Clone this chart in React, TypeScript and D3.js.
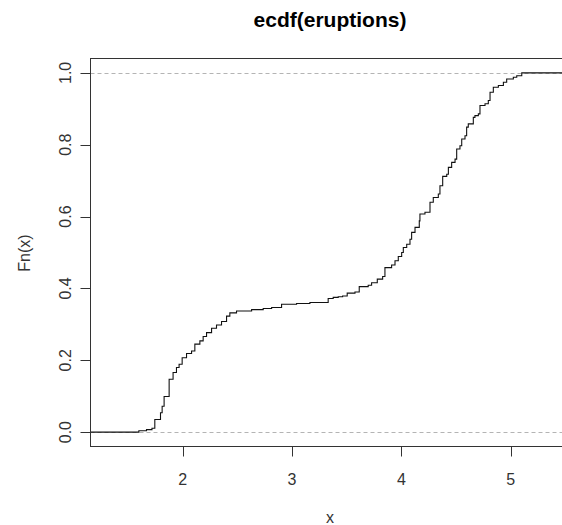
import React, { useEffect, useRef } from 'react';
import * as d3 from 'd3';

const knotX = [
  1.6, 1.67, 1.72, 1.746, 1.798, 1.813, 1.831, 1.877, 1.913, 1.944, 1.968, 1.996,
  2.036, 2.082, 2.112, 2.158, 2.188, 2.219, 2.265, 2.31, 2.356, 2.402, 2.432, 2.493,
  2.631, 2.737, 2.814, 2.905, 3.042, 3.164, 3.331, 3.377, 3.423, 3.463, 3.505, 3.576,
  3.615, 3.697, 3.728, 3.78, 3.829, 3.85, 3.911, 3.942, 3.972, 4.003, 4.018, 4.049,
  4.079, 4.094, 4.125, 4.164, 4.17, 4.216, 4.262, 4.292, 4.338, 4.353, 4.378, 4.415,
  4.43, 4.46, 4.491, 4.506, 4.536, 4.552, 4.582, 4.597, 4.612, 4.658, 4.673, 4.704,
  4.719, 4.765, 4.795, 4.811, 4.841, 4.887, 4.933, 4.963, 5.024, 5.055, 5.101,
];
// Fn(x) level right after each jump
const knotF = [
  0.004, 0.007, 0.011, 0.035, 0.054, 0.072, 0.099, 0.147, 0.166, 0.18, 0.189, 0.207,
  0.219, 0.226, 0.245, 0.254, 0.266, 0.277, 0.289, 0.298, 0.308, 0.323, 0.332, 0.337,
  0.341, 0.344, 0.347, 0.356, 0.358, 0.361, 0.372, 0.375, 0.377, 0.379, 0.387, 0.39,
  0.405, 0.409, 0.416, 0.426, 0.433, 0.458, 0.465, 0.477, 0.489, 0.5, 0.514, 0.523,
  0.537, 0.556, 0.57, 0.588, 0.607, 0.612, 0.64, 0.653, 0.663, 0.686, 0.712, 0.718,
  0.737, 0.751, 0.76, 0.788, 0.797, 0.816, 0.825, 0.849, 0.858, 0.876, 0.881, 0.886,
  0.909, 0.914, 0.923, 0.946, 0.96, 0.965, 0.974, 0.983, 0.988, 0.992, 1.0,
];

const xTicks = [2, 3, 4, 5];
const yTicks = [0, 0.2, 0.4, 0.6, 0.8, 1.0];
const refLines = [0, 1];

const W = 562;
const H = 525;
const FONT = '"Liberation Sans", Arial, sans-serif';

const App = () => {
  const svgRef = useRef<SVGSVGElement>(null);

  useEffect(() => {
    const svg = d3.select(svgRef.current);
    svg.selectAll('*').remove();

    const plot = { left: 90.5, right: 570, top: 58.5, bottom: 446.5 };
    const x = d3.scaleLinear().domain([1.158, 5.542]).range([plot.left, plot.right]);
    const y = d3.scaleLinear().domain([-0.04, 1.04]).range([plot.bottom, plot.top]);

    svg.append('rect').attr('width', W).attr('height', H).attr('fill', '#fff');

    svg.append('defs').append('clipPath').attr('id', 'plotclip')
      .append('rect')
      .attr('x', plot.left).attr('y', plot.top)
      .attr('width', plot.right - plot.left).attr('height', plot.bottom - plot.top);

    // dashed reference lines at 0 and 1
    svg.selectAll('.ref')
      .data(refLines)
      .enter()
      .append('line')
      .attr('x1', plot.left)
      .attr('x2', plot.right)
      .attr('y1', (d) => Math.round(y(d)) + 0.5)
      .attr('y2', (d) => Math.round(y(d)) + 0.5)
      .attr('stroke', '#b4b4b4')
      .attr('stroke-dasharray', '4,3');

    // step function
    const pts: [number, number][] = [[1.158, 0]];
    knotX.forEach((k, i) => pts.push([k, knotF[i]]));
    pts.push([5.542, 1]);
    const line = d3.line<[number, number]>()
      .x((d) => x(d[0]))
      .y((d) => y(d[1]))
      .curve(d3.curveStepAfter);
    svg.append('path')
      .attr('clip-path', 'url(#plotclip)')
      .attr('d', line(pts))
      .attr('fill', 'none')
      .attr('stroke', '#111')
      .attr('stroke-width', 1.1);

    // box
    svg.append('rect')
      .attr('x', plot.left).attr('y', plot.top)
      .attr('width', plot.right - plot.left).attr('height', plot.bottom - plot.top)
      .attr('fill', 'none').attr('stroke', '#333');

    // x axis
    const xa = svg.append('g');
    xa.selectAll('line')
      .data(xTicks)
      .enter()
      .append('line')
      .attr('x1', (d) => Math.round(x(d)) + 0.5)
      .attr('x2', (d) => Math.round(x(d)) + 0.5)
      .attr('y1', plot.bottom)
      .attr('y2', plot.bottom + 10)
      .attr('stroke', '#333');
    xa.selectAll('text')
      .data(xTicks)
      .enter()
      .append('text')
      .attr('x', (d) => x(d))
      .attr('y', 485)
      .attr('text-anchor', 'middle')
      .attr('font-family', FONT)
      .attr('font-size', 16)
      .attr('fill', '#333')
      .text((d) => d3.format('d')(d));

    // y axis
    const ya = svg.append('g');
    ya.selectAll('line')
      .data(yTicks)
      .enter()
      .append('line')
      .attr('x1', plot.left - 10)
      .attr('x2', plot.left)
      .attr('y1', (d) => Math.round(y(d)) + 0.5)
      .attr('y2', (d) => Math.round(y(d)) + 0.5)
      .attr('stroke', '#333');
    ya.selectAll('text')
      .data(yTicks)
      .enter()
      .append('text')
      .attr('transform', (d) => `translate(70.5,${y(d)}) rotate(-90)`)
      .attr('text-anchor', 'middle')
      .attr('font-family', FONT)
      .attr('font-size', 16)
      .attr('fill', '#333')
      .text((d) => d3.format('.1f')(d));

    // labels
    svg.append('text')
      .attr('x', 330)
      .attr('y', 523)
      .attr('text-anchor', 'middle')
      .attr('font-family', FONT)
      .attr('font-size', 16)
      .attr('fill', '#333')
      .text('x');

    svg.append('text')
      .attr('transform', 'translate(30,253) rotate(-90)')
      .attr('text-anchor', 'middle')
      .attr('font-family', FONT)
      .attr('font-size', 16)
      .attr('fill', '#333')
      .text('Fn(x)');

    svg.append('text')
      .attr('x', 330)
      .attr('y', 27)
      .attr('text-anchor', 'middle')
      .attr('font-family', FONT)
      .attr('font-size', 21)
      .attr('font-weight', 'bold')
      .attr('fill', '#000')
      .text('ecdf(eruptions)');
  }, []);

  return (
    <div style={{ position: 'absolute', left: 0, top: 0 }}>
      <svg ref={svgRef} width={W} height={H} style={{ display: 'block' }}></svg>
    </div>
  );
};

export default App;
